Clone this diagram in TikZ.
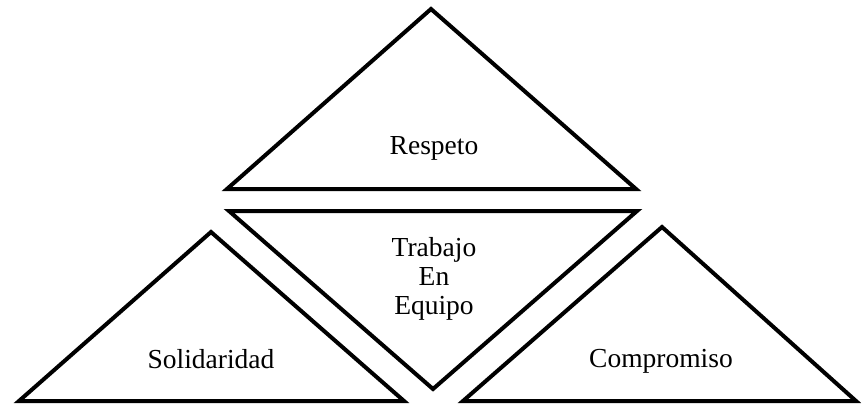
\documentclass[tikz,border=0pt]{standalone}
\usepackage{fontspec}
\setmainfont{Liberation Serif}
\usepackage{tikz}
\tikzstyle{tri} = [draw, line width=4pt, line join=miter]
\tikzstyle{word} = [font=\fontsize{27.5}{29}\selectfont, inner sep=0pt]

\begin{document}
\begin{tikzpicture}[x=1pt,y=1pt]
  \useasboundingbox (0,0) rectangle (863,408);
  % corners of the four triangles
  \coordinate (R_top) at (431,399);
  \coordinate (R_l) at (227,219);
  \coordinate (R_r) at (636,219);
  \coordinate (T_l) at (229,197);
  \coordinate (T_r) at (637,197);
  \coordinate (T_bot) at (433,19);
  \coordinate (S_top) at (211,176);
  \coordinate (S_l) at (19,7);
  \coordinate (S_r) at (404,7);
  \coordinate (C_top) at (662,181);
  \coordinate (C_l) at (463,7);
  \coordinate (C_r) at (856,7);

  \draw[tri] (R_top) -- (R_r) -- (R_l) -- cycle;
  \draw[tri] (T_l) -- (T_r) -- (T_bot) -- cycle;
  \draw[tri] (S_top) -- (S_r) -- (S_l) -- cycle;
  \draw[tri] (C_top) -- (C_r) -- (C_l) -- cycle;

  \node[word, anchor=base] (R) at (434,254) {Respeto};
  \node[word, align=center] (T) at (434,129) {Trabajo\\En\\Equipo};
  \node[word, anchor=base] (S) at (211,40) {Solidaridad};
  \node[word, anchor=base] (C) at (661,41) {Compromiso};
\end{tikzpicture}
\end{document}
